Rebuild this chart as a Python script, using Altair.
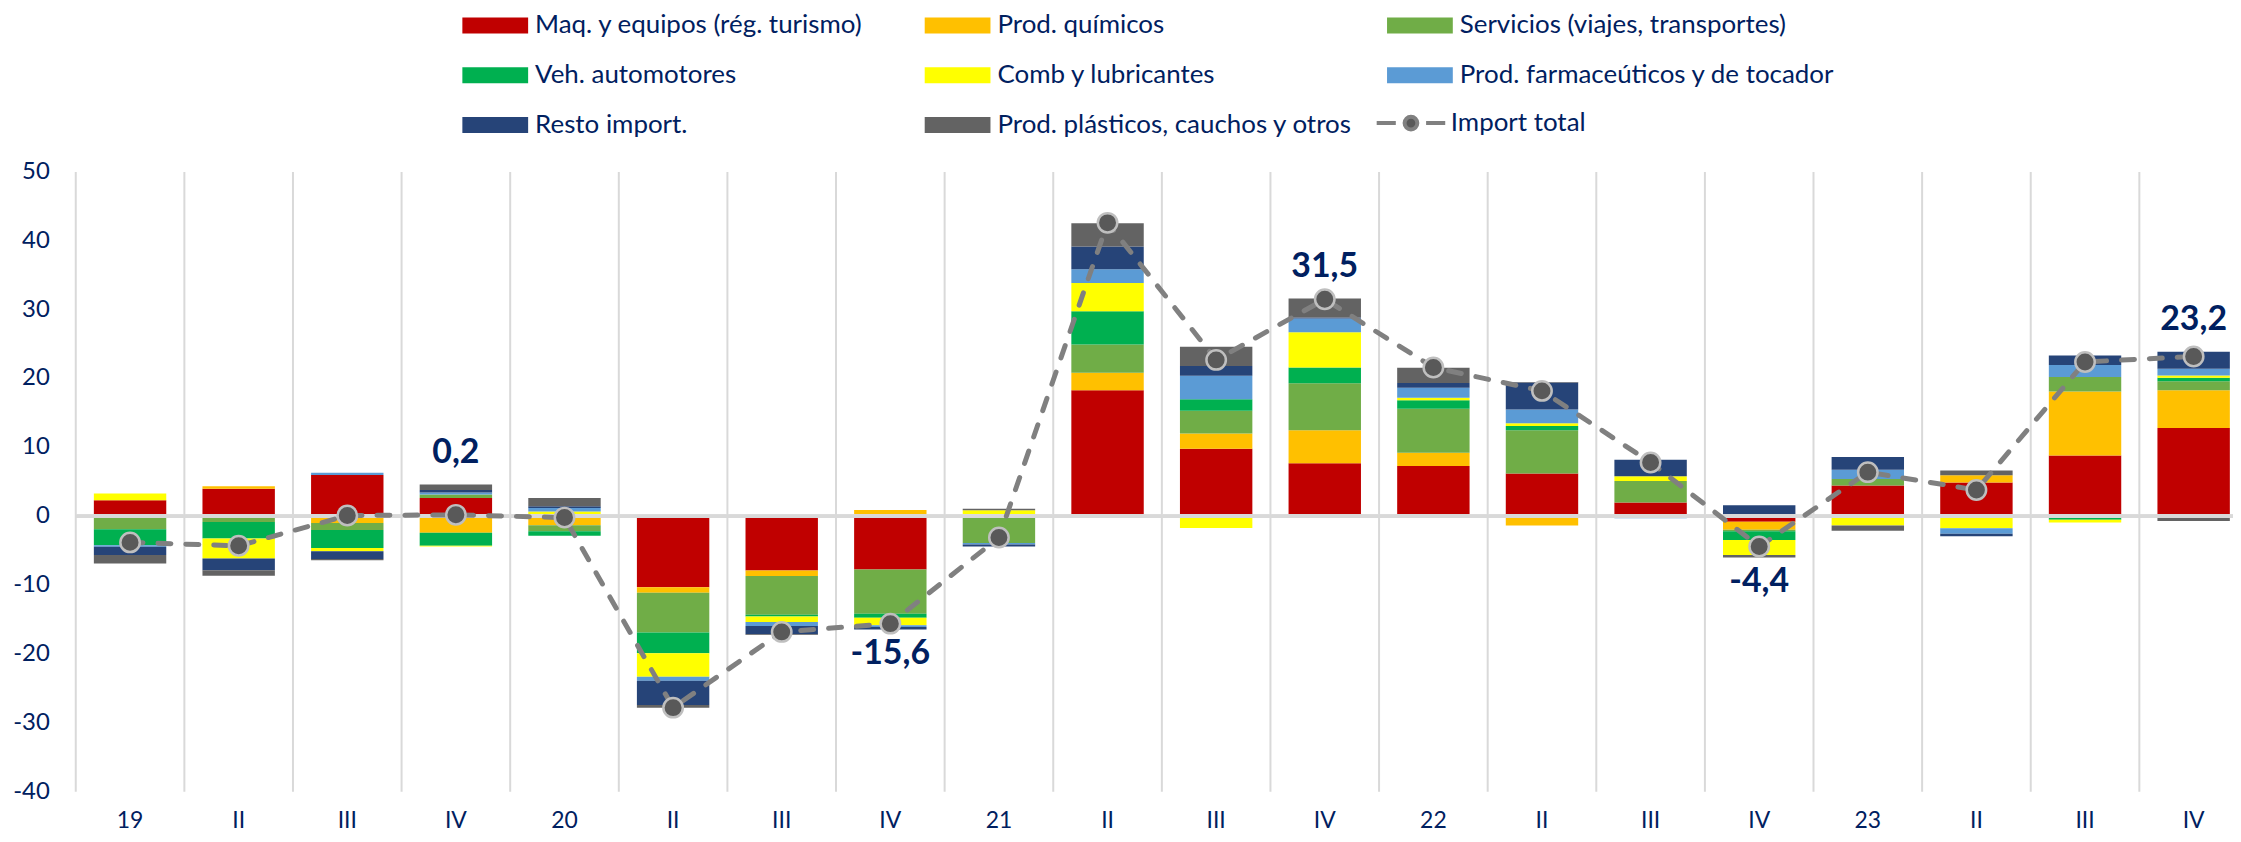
import altair as alt
import pandas as pd

# ---------------- data ----------------
quarters = ["19", "II", "III", "IV", "20", "II", "III", "IV", "21", "II",
            "III", "IV", "22", "II", "III", "IV", "23", "II", "III", "IV"]

series = ["Maq. y equipos (rég. turismo)", "Prod. químicos",
          "Servicios (viajes, transportes)", "Veh. automotores",
          "Comb y lubricantes", "Prod. farmaceúticos y de tocador",
          "Resto import.", "Prod. plásticos, cauchos y otros"]
colors = ["#C00000", "#FFC000", "#70AD47", "#00B050",
          "#FFFF00", "#5B9BD5", "#264478", "#636363"]

maq = [2.3, 4.0, 6.0, 2.65, 0.3, -10.3, -7.9, -7.75, 0.15, 18.3,
       9.8, 7.7, 7.3, 6.2, 2.0, -0.8, 4.45, 4.9, 8.8, 12.8]
quim = [0.0, 0.35, -1.0, -2.4, -1.3, -0.8, -0.8, 0.9, 0.0, 2.55,
        2.2, 4.8, 1.9, -1.35, 0.0, -1.15, 0.0, 1.05, 9.3, 5.5]
serv = [-1.9, -0.85, -1.0, 0.5, -0.9, -5.8, -5.6, -6.4, -3.9, 4.1,
        3.3, 6.8, 6.4, 6.3, 3.1, -0.25, 0.95, 0.0, 2.1, 1.3]
veh = [-2.3, -2.4, -2.6, -1.9, -0.65, -3.0, -0.25, -0.6, 0.0, 4.8,
       1.7, 2.3, 1.25, 0.6, 0.0, -1.25, -0.15, 0.0, -0.5, 0.5]
comb = [1.0, -2.9, -0.5, -0.1, 0.4, -3.4, -0.8, -1.1, 0.7, 4.1,
        -1.7, 5.1, 0.35, 0.4, 0.7, -2.2, -1.2, -1.75, -0.4, 0.35]
farma = [-0.25, 0.0, 0.3, 0.3, 0.5, -0.6, -0.6, -0.25, -0.2, 2.0,
         3.4, 2.0, 1.45, 2.0, -0.3, 0.3, 1.35, -0.8, 1.75, 0.95]
resto = [-1.2, -1.7, -1.1, 0.35, 0.25, -3.5, -1.2, -0.35, -0.3, 3.3,
         1.4, 0.15, 0.7, 3.9, 2.4, 1.3, 1.85, -0.35, 1.4, 2.5]
plast = [-1.2, -0.8, -0.2, 0.8, 1.2, -0.4, -0.1, 0.0, 0.25, 3.4,
         2.8, 2.75, 2.2, 0.1, 0.0, -0.35, -0.75, 0.7, 0.0, -0.7]

total = [-3.8, -4.3, 0.1, 0.2, -0.2, -27.8, -16.8, -15.6, -3.1, 42.6,
         22.7, 31.5, 21.6, 18.2, 7.8, -4.4, 6.4, 3.8, 22.4, 23.2]
line_name = "Import total"
label_idx = [3, 7, 11, 15, 19]
y_ticks = [-40, -30, -20, -10, 0, 10, 20, 30, 40, 50]

# ---------------- tables ----------------
NAVY = "#002060"
FONT = "Lato"
cols = [maq, quim, serv, veh, comb, farma, resto, plast]
n = len(quarters)
Y_MIN, Y_MAX = y_ticks[0], y_ticks[-1]

rows = []
for k, (name, vals) in enumerate(zip(series, cols)):
    for i, v in enumerate(vals):
        rows.append({"i": i, "serie": name, "ord": k, "value": v})
bars_df = pd.DataFrame(rows)

pos_sum = [sum(max(c[i], 0) for c in cols) for i in range(n)]
neg_sum = [sum(min(c[i], 0) for c in cols) for i in range(n)]

line_df = pd.DataFrame({"i": list(range(n)), "total": total,
                        "lname": [line_name] * n})
lab_df = pd.DataFrame({
    "i": label_idx,
    "anchor": [pos_sum[i] if total[i] >= 0 else neg_sum[i] for i in label_idx],
    "sign": ["pos" if total[i] >= 0 else "neg" for i in label_idx],
    "text": [f"{total[i]:.1f}".replace(".", ",") for i in label_idx],
})
grid_df = pd.DataFrame({"i": list(range(n)), "top": [Y_MAX] * n,
                        "bot": [Y_MIN] * n, "z": [0] * n, "q": quarters})
ytick_df = pd.DataFrame({"v": y_ticks, "t": [str(v) for v in y_ticks]})

xscale = alt.Scale(domain=list(range(n)), range=[0, 2180],
                   paddingInner=0, paddingOuter=0)
yscale = alt.Scale(domain=[Y_MIN, Y_MAX], nice=False, zero=False)

bar_sym = "M-4.125,-1H4.125V1H-4.125Z"
line_sym = ("M-4.3,0H-1.9M1.9,0H4.3"
            "M-0.8,0A0.8,0.8 0 1 1 0.8,0A0.8,0.8 0 1 1 -0.8,0Z")

X = alt.X("i:O", scale=xscale, axis=None)

# ---------------- layers ----------------
bars = alt.Chart(bars_df).mark_bar(width=alt.RelativeBandSize(2 / 3)).encode(
    x=X,
    y=alt.Y("value:Q", stack="zero", scale=yscale, axis=None),
    color=alt.Color("serie:N", scale=alt.Scale(domain=series, range=colors),
                    legend=alt.Legend(
                        title=None, orient="none", legendX=408, legendY=-160,
                        direction="horizontal",
                        columns=3, gridAlign="all", columnPadding=14,
                        rowPadding=24, padding=0,
                        symbolType=bar_sym, symbolSize=256,
                        symbolStrokeWidth=0, symbolOpacity=1,
                        labelOffset=27, labelFont=FONT, labelFontSize=26,
                        labelColor=NAVY, labelLimit=0)),
    order=alt.Order("ord:Q"),
)

grid = alt.Chart(grid_df).mark_rule(color="#D9D9D9", strokeWidth=2).encode(
    x=alt.X("i:O", scale=xscale, bandPosition=0, axis=None),
    y=alt.Y("top:Q", scale=yscale, axis=None),
    y2=alt.Y2("bot:Q"),
)

zero = alt.Chart(grid_df).mark_rule(color="#D9D9D9", strokeWidth=3).encode(
    y=alt.Y("z:Q", scale=yscale, axis=None)
)

# axis labels (drawn as text through the same scales)
x_labels = alt.Chart(grid_df).mark_text(
    font=FONT, fontSize=23, color=NAVY, baseline="middle", align="center", dy=29
).encode(
    x=X, y=alt.Y("bot:Q", scale=yscale, axis=None), text="q:N"
)
y_labels = alt.Chart(ytick_df).mark_text(
    font=FONT, fontSize=24, color=NAVY, baseline="middle", align="right"
).encode(
    x=alt.value(-26), y=alt.Y("v:Q", scale=yscale, axis=None), text="t:N"
)

line = alt.Chart(line_df).mark_line(
    color="#808080", strokeWidth=5, strokeDash=[13, 15], strokeCap="round"
).encode(
    x=X,
    y=alt.Y("total:Q", scale=yscale, axis=None),
)

points = alt.Chart(line_df).mark_point(
    filled=True, size=380, stroke="#BFBFBF", strokeWidth=2.5, opacity=1
).encode(
    x=X,
    y=alt.Y("total:Q", scale=yscale, axis=None),
    color=alt.Color("lname:N",
                    scale=alt.Scale(domain=[line_name], range=["#595959"]),
                    legend=alt.Legend(
                        title=None, orient="none", legendX=1327,
                        legendY=-62, padding=0,
                        symbolType=line_sym, symbolSize=256,
                        symbolFillColor="#595959",
                        symbolStrokeColor="#808080",
                        symbolStrokeWidth=4, symbolOpacity=1,
                        labelOffset=27, labelFont=FONT, labelFontSize=26,
                        labelColor=NAVY, labelLimit=0)),
)

lab_pos = alt.Chart(lab_df).transform_filter("datum.sign == 'pos'").mark_text(
    font=FONT, fontSize=34, fontWeight="bold", color=NAVY,
    baseline="middle", dy=-32
).encode(
    x=X,
    y=alt.Y("anchor:Q", scale=yscale, axis=None),
    text="text:N",
)
lab_neg = alt.Chart(lab_df).transform_filter("datum.sign == 'neg'").mark_text(
    font=FONT, fontSize=34, fontWeight="bold", color=NAVY,
    baseline="middle", dy=25
).encode(
    x=X,
    y=alt.Y("anchor:Q", scale=yscale, axis=None),
    text="text:N",
)

chart = alt.layer(
    grid, bars, zero, line, points, lab_pos, lab_neg, x_labels, y_labels
).resolve_scale(
    color="independent"
).properties(
    width=2165, height=622,
    padding={"left": 68, "top": 163, "right": 0, "bottom": 41},
    autosize=alt.AutoSizeParams(type="none"),
).configure(
    font=FONT, background="white"
).configure_view(stroke=None)

chart.save("out.html", embed_options={"renderer": "svg", "actions": False})
